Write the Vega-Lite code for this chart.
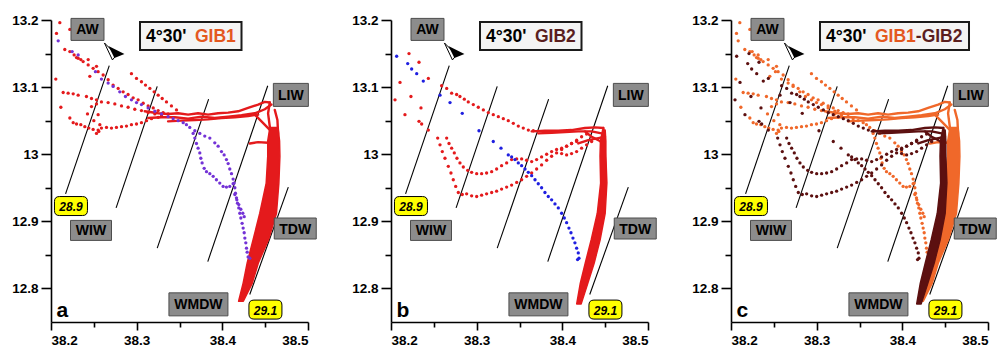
{
  "$schema": "https://vega.github.io/schema/vega-lite/v6.json",
  "padding": {"left": 11, "top": 13, "right": 2, "bottom": 2},
  "bounds": "flush",
  "spacing": 83,
  "config": {
    "view": {"stroke": null},
    "font": "Liberation Sans",
    "axis": {
      "domainColor": "black", "domainWidth": 1.6, "tickColor": "black", "tickWidth": 1.6,
      "labelColor": "black", "labelFont": "Liberation Sans", "labelFontSize": 13.5,
      "labelFontWeight": "bold", "grid": false, "labelPadding": 3, "labelOverlap": false, "title": null
    }
  },
  "datasets": {
    "notes": [
      {"key": "title", "S": 38.3039, "T": 13.1762},
      {"key": "arrow", "S": 38.2729, "T": 13.1494},
      {"key": "letter", "S": 38.2064, "T": 12.758}
    ],
    "iso": [
      {"S": 38.217, "T": 12.941, "S2": 38.268, "T2": 13.132},
      {"S": 38.276, "T": 12.920, "S2": 38.324, "T2": 13.101},
      {"S": 38.324, "T": 12.860, "S2": 38.384, "T2": 13.082},
      {"S": 38.383, "T": 12.840, "S2": 38.453, "T2": 13.102},
      {"S": 38.432, "T": 12.791, "S2": 38.477, "T2": 12.951}
    ],
    "lab": [
      {"name": "AW", "S": 38.2426, "T": 13.186},
      {"name": "LIW", "S": 38.4800, "T": 13.0884},
      {"name": "WIW", "S": 38.2467, "T": 12.8865},
      {"name": "TDW", "S": 38.4851, "T": 12.8893},
      {"name": "WMDW", "S": 38.3721, "T": 12.7763}
    ],
    "sig": [
      {"name": "28.9", "S": 38.2233, "T": 12.9228},
      {"name": "29.1", "S": 38.4503, "T": 12.7685}
    ],
    "g1": [
      {"S":38.2103,"T":13.196},{"S":38.2064,"T":13.180},{"S":38.2220,"T":13.186},{"S":38.2298,"T":13.144},
      {"S":38.2348,"T":13.141},{"S":38.2434,"T":13.141},{"S":38.2531,"T":13.131},{"S":38.2453,"T":13.116},
      {"S":38.2161,"T":13.156},{"S":38.2220,"T":13.153},{"S":38.2270,"T":13.148},{"S":38.2317,"T":13.143},
      {"S":38.2375,"T":13.138},{"S":38.2434,"T":13.133},{"S":38.2492,"T":13.128},{"S":38.2550,"T":13.123},
      {"S":38.2609,"T":13.118},{"S":38.2667,"T":13.111},{"S":38.2725,"T":13.103},{"S":38.2784,"T":13.098},
      {"S":38.2842,"T":13.093},{"S":38.2900,"T":13.089},{"S":38.2959,"T":13.084},{"S":38.3017,"T":13.081},
      {"S":38.3076,"T":13.076},{"S":38.3134,"T":13.072},{"S":38.3193,"T":13.069},{"S":38.3251,"T":13.065},
      {"S":38.3309,"T":13.062},{"S":38.3367,"T":13.060},
      {"S":38.2939,"T":13.120},{"S":38.2998,"T":13.113},{"S":38.3056,"T":13.108},{"S":38.3103,"T":13.103},
      {"S":38.3154,"T":13.098},{"S":38.3204,"T":13.093},{"S":38.3251,"T":13.088},{"S":38.3298,"T":13.083},
      {"S":38.3348,"T":13.078},{"S":38.3406,"T":13.072},{"S":38.3465,"T":13.066},
      {"S":38.2056,"T":13.112},{"S":38.2142,"T":13.092},{"S":38.2200,"T":13.091},{"S":38.2259,"T":13.090},
      {"S":38.2317,"T":13.088},{"S":38.2414,"T":13.086},{"S":38.2473,"T":13.083},{"S":38.2531,"T":13.081},
      {"S":38.2589,"T":13.078},{"S":38.2667,"T":13.077},{"S":38.2745,"T":13.075},{"S":38.2823,"T":13.072},
      {"S":38.2900,"T":13.070},{"S":38.2978,"T":13.067},{"S":38.3056,"T":13.065},{"S":38.3134,"T":13.062},
      {"S":38.3212,"T":13.060},{"S":38.3290,"T":13.057},
      {"S":38.2220,"T":13.054},{"S":38.2259,"T":13.047},{"S":38.2298,"T":13.045},{"S":38.2348,"T":13.044},
      {"S":38.2395,"T":13.041},{"S":38.2441,"T":13.039},{"S":38.2492,"T":13.037},{"S":38.2550,"T":13.036},
      {"S":38.2589,"T":13.039},{"S":38.2648,"T":13.040},{"S":38.2706,"T":13.039},{"S":38.2764,"T":13.040},
      {"S":38.2823,"T":13.041},{"S":38.2881,"T":13.042},{"S":38.2939,"T":13.044},{"S":38.2998,"T":13.045},
      {"S":38.3056,"T":13.047},{"S":38.3115,"T":13.050},{"S":38.3173,"T":13.053},{"S":38.3251,"T":13.055},
      {"S":38.2115,"T":13.070},{"S":38.2473,"T":13.071},{"S":38.2531,"T":13.075},{"S":38.2426,"T":13.060},
      {"S":38.2550,"T":13.059},{"S":38.2558,"T":13.034},{"S":38.2531,"T":13.031},{"S":38.2570,"T":13.044},
      {"S":38.2500,"T":13.050}
    ],
    "g1t": [
      {"trk":"b1","S":38.3095,"T":13.064},{"trk":"b1","S":38.3251,"T":13.061},{"trk":"b1","S":38.3367,"T":13.060},
      {"trk":"b1","S":38.3484,"T":13.061},{"trk":"b1","S":38.3601,"T":13.059},{"trk":"b1","S":38.3717,"T":13.061},
      {"trk":"b1","S":38.3834,"T":13.059},{"trk":"b1","S":38.3951,"T":13.061},{"trk":"b1","S":38.4068,"T":13.062},
      {"trk":"b1","S":38.4185,"T":13.064},{"trk":"b1","S":38.4301,"T":13.069},{"trk":"b1","S":38.4418,"T":13.074},
      {"trk":"b1","S":38.4496,"T":13.078},{"trk":"b1","S":38.4554,"T":13.077},
      {"trk":"b2","S":38.3134,"T":13.054},{"trk":"b2","S":38.3290,"T":13.055},{"trk":"b2","S":38.3445,"T":13.055},
      {"trk":"b2","S":38.3601,"T":13.053},{"trk":"b2","S":38.3756,"T":13.056},{"trk":"b2","S":38.3912,"T":13.054},
      {"trk":"b2","S":38.4068,"T":13.056},{"trk":"b2","S":38.4224,"T":13.058},{"trk":"b2","S":38.4379,"T":13.061},
      {"trk":"b2","S":38.4496,"T":13.067},{"trk":"b2","S":38.4573,"T":13.074},
      {"trk":"b3","S":38.3367,"T":13.049},{"trk":"b3","S":38.3523,"T":13.050},{"trk":"b3","S":38.3679,"T":13.051},
      {"trk":"b3","S":38.3834,"T":13.052},{"trk":"b3","S":38.3990,"T":13.054},{"trk":"b3","S":38.4146,"T":13.055},
      {"trk":"b3","S":38.4301,"T":13.057},{"trk":"b3","S":38.4418,"T":13.059},
      {"trk":"v1","S":38.4554,"T":13.077},{"trk":"v1","S":38.4534,"T":13.061},{"trk":"v1","S":38.4554,"T":13.041},
      {"trk":"v1","S":38.4573,"T":13.021},{"trk":"v1","S":38.4581,"T":12.997},
      {"trk":"v2","S":38.4612,"T":13.066},{"trk":"v2","S":38.4643,"T":13.051},{"trk":"v2","S":38.4651,"T":13.031},
      {"trk":"v2","S":38.4636,"T":13.012},{"trk":"v2","S":38.4651,"T":12.997},
      {"trk":"h4","S":38.4321,"T":13.016},{"trk":"h4","S":38.4418,"T":13.018},{"trk":"h4","S":38.4534,"T":13.017},
      {"trk":"h4","S":38.4651,"T":13.018},
      {"trk":"d1","S":38.4379,"T":13.059},{"trk":"d1","S":38.4457,"T":13.049},{"trk":"d1","S":38.4534,"T":13.039},
      {"trk":"d1","S":38.4593,"T":13.031}
    ],
    "g1k": [
      {"T":13.040,"S":38.4555,"S2":38.4650},
      {"T":13.020,"S":38.4530,"S2":38.4668},{"T":12.997,"S":38.4530,"S2":38.4672},
      {"T":12.957,"S":38.4512,"S2":38.4660},{"T":12.912,"S":38.4437,"S2":38.4632},
      {"T":12.873,"S":38.4360,"S2":38.4540},{"T":12.838,"S":38.4290,"S2":38.4420},
      {"T":12.808,"S":38.4243,"S2":38.4350},{"T":12.781,"S":38.4190,"S2":38.4245}
    ],
    "g1p": [
      {"S":38.2084,"T":13.169},{"S":38.2247,"T":13.153},{"S":38.2317,"T":13.148},{"S":38.2519,"T":13.123},
      {"S":38.2589,"T":13.112},{"S":38.2667,"T":13.106},{"S":38.2725,"T":13.101},{"S":38.2803,"T":13.093},
      {"S":38.2869,"T":13.086},{"S":38.2939,"T":13.081},{"S":38.2998,"T":13.077},{"S":38.3056,"T":13.074},
      {"S":38.3134,"T":13.069},{"S":38.3212,"T":13.064},{"S":38.3290,"T":13.060},{"S":38.3367,"T":13.056},
      {"S":38.3426,"T":13.053},{"S":38.3484,"T":13.050},{"S":38.3543,"T":13.047},{"S":38.3581,"T":13.044},
      {"S":38.3620,"T":13.040},
      {"S":38.3679,"T":13.035},{"S":38.3737,"T":13.031},{"S":38.3795,"T":13.027},{"S":38.3854,"T":13.024},
      {"S":38.3912,"T":13.017},{"S":38.3951,"T":13.012},{"S":38.3990,"T":13.004},{"S":38.4021,"T":12.999},
      {"S":38.4048,"T":12.992},{"S":38.4068,"T":12.986},{"S":38.4087,"T":12.978},{"S":38.4107,"T":12.971},
      {"S":38.4126,"T":12.963},{"S":38.4138,"T":12.957},
      {"S":38.3659,"T":13.031},{"S":38.3679,"T":13.024},{"S":38.3698,"T":13.016},{"S":38.3717,"T":13.009},
      {"S":38.3737,"T":13.002},{"S":38.3749,"T":12.994},{"S":38.3764,"T":12.987},{"S":38.3788,"T":12.979},
      {"S":38.3815,"T":12.974},{"S":38.3854,"T":12.971},{"S":38.3893,"T":12.967},{"S":38.3931,"T":12.962},
      {"S":38.3970,"T":12.957},{"S":38.4009,"T":12.952},{"S":38.4048,"T":12.951},{"S":38.4087,"T":12.952},
      {"S":38.4126,"T":12.956},
      {"S":38.4146,"T":12.950},{"S":38.4153,"T":12.942},{"S":38.4165,"T":12.935},{"S":38.4177,"T":12.927},
      {"S":38.4192,"T":12.920},{"S":38.4204,"T":12.912},{"S":38.4216,"T":12.905},{"S":38.4231,"T":12.897},
      {"S":38.4243,"T":12.890},{"S":38.4255,"T":12.883},{"S":38.4263,"T":12.875},{"S":38.4274,"T":12.868},
      {"S":38.4282,"T":12.860},{"S":38.4290,"T":12.854},{"S":38.4301,"T":12.847},{"S":38.4321,"T":12.845},
      {"S":38.4146,"T":12.940},{"S":38.4169,"T":12.932},{"S":38.4192,"T":12.925},{"S":38.4216,"T":12.918},
      {"S":38.4239,"T":12.912},{"S":38.4255,"T":12.907}
    ],
    "g2": [
      {"S":38.2210,"T":13.150},{"S":38.2327,"T":13.137},{"S":38.2436,"T":13.113},{"S":38.2591,"T":13.102},
      {"S":38.2650,"T":13.098},{"S":38.2708,"T":13.091},
      {"S":38.2047,"T":13.081},{"S":38.2105,"T":13.107},{"S":38.2163,"T":13.059},{"S":38.2233,"T":13.086},
      {"S":38.2327,"T":13.049},{"S":38.2350,"T":13.069},{"S":38.2436,"T":13.036},{"S":38.2358,"T":13.045},
      {"S":38.2766,"T":13.089},{"S":38.2805,"T":13.086},{"S":38.2856,"T":13.082},{"S":38.2902,"T":13.078},
      {"S":38.2961,"T":13.074},{"S":38.3019,"T":13.070},{"S":38.3078,"T":13.066},{"S":38.3136,"T":13.062},
      {"S":38.3194,"T":13.059},{"S":38.3253,"T":13.056},{"S":38.3311,"T":13.053},{"S":38.3369,"T":13.050},
      {"S":38.3428,"T":13.046},{"S":38.3486,"T":13.042},{"S":38.3544,"T":13.039},{"S":38.3603,"T":13.036},
      {"S":38.3661,"T":13.035},
      {"S":38.2545,"T":13.024},{"S":38.2572,"T":13.014},{"S":38.2599,"T":13.004},{"S":38.2630,"T":12.994},
      {"S":38.2669,"T":12.982},{"S":38.2700,"T":12.972},{"S":38.2727,"T":12.962},{"S":38.2755,"T":12.952},
      {"S":38.2786,"T":12.943},{"S":38.2832,"T":12.940},{"S":38.2883,"T":12.941},{"S":38.2941,"T":12.938},
      {"S":38.3000,"T":12.937},{"S":38.3058,"T":12.939},{"S":38.3116,"T":12.941},{"S":38.3175,"T":12.943},
      {"S":38.3233,"T":12.945},{"S":38.3291,"T":12.948},{"S":38.3350,"T":12.951},{"S":38.3408,"T":12.954},
      {"S":38.3467,"T":12.958},{"S":38.3525,"T":12.962},{"S":38.3583,"T":12.967},{"S":38.3642,"T":12.972},
      {"S":38.3700,"T":12.978},{"S":38.3758,"T":12.984},{"S":38.3817,"T":12.991},{"S":38.3875,"T":12.997},
      {"S":38.3933,"T":13.002},{"S":38.3992,"T":13.007},{"S":38.4050,"T":13.012},{"S":38.4108,"T":13.016},
      {"S":38.4167,"T":13.021},{"S":38.4225,"T":13.026},{"S":38.4283,"T":13.030},
      {"S":38.2650,"T":13.024},{"S":38.2677,"T":13.016},{"S":38.2708,"T":13.009},{"S":38.2739,"T":13.002},
      {"S":38.2770,"T":12.994},{"S":38.2805,"T":12.987},{"S":38.2844,"T":12.981},{"S":38.2895,"T":12.976},
      {"S":38.2941,"T":12.973},{"S":38.3000,"T":12.971},{"S":38.3058,"T":12.971},{"S":38.3116,"T":12.972},
      {"S":38.3175,"T":12.974},{"S":38.3233,"T":12.978},{"S":38.3291,"T":12.983},{"S":38.3350,"T":12.987},
      {"S":38.3408,"T":12.992},{"S":38.3467,"T":12.993},{"S":38.3525,"T":12.993},{"S":38.3583,"T":12.991},
      {"S":38.3642,"T":12.989},{"S":38.3700,"T":12.992},{"S":38.3758,"T":12.996},{"S":38.3817,"T":13.000},
      {"S":38.3875,"T":13.004},{"S":38.3933,"T":13.007},{"S":38.3992,"T":13.009},{"S":38.4050,"T":13.012},
      {"S":38.4108,"T":13.016},{"S":38.4167,"T":13.019},
      {"S":38.3992,"T":13.001},{"S":38.4050,"T":12.999},{"S":38.4108,"T":13.001},{"S":38.4167,"T":13.004},
      {"S":38.4225,"T":13.009},{"S":38.4283,"T":13.014},{"S":38.4342,"T":13.019}
    ],
    "g2t": [
      {"trk":"b1","S":38.3642,"T":13.034},{"trk":"b1","S":38.3797,"T":13.035},{"trk":"b1","S":38.3953,"T":13.035},
      {"trk":"b1","S":38.4108,"T":13.036},{"trk":"b1","S":38.4264,"T":13.039},{"trk":"b1","S":38.4381,"T":13.040},
      {"trk":"b1","S":38.4478,"T":13.039},
      {"trk":"b2","S":38.3719,"T":13.031},{"trk":"b2","S":38.3875,"T":13.032},{"trk":"b2","S":38.4031,"T":13.033},
      {"trk":"b2","S":38.4186,"T":13.034},{"trk":"b2","S":38.4342,"T":13.034},{"trk":"b2","S":38.4458,"T":13.031},
      {"trk":"l1","S":38.4264,"T":13.034},{"trk":"l1","S":38.4342,"T":13.026},{"trk":"l1","S":38.4420,"T":13.021},
      {"trk":"l1","S":38.4478,"T":13.016},
      {"trk":"l2","S":38.4186,"T":13.016},{"trk":"l2","S":38.4303,"T":13.021},{"trk":"l2","S":38.4420,"T":13.024},
      {"trk":"l2","S":38.4498,"T":13.026},
      {"trk":"v1","S":38.4478,"T":13.039},{"trk":"v1","S":38.4490,"T":13.021},{"trk":"v1","S":38.4498,"T":12.997},
      {"trk":"v1","S":38.4505,"T":12.970}
    ],
    "g2k": [
      {"T":13.036,"S":38.4470,"S2":38.4500},
      {"T":13.020,"S":38.4445,"S2":38.4508},{"T":12.997,"S":38.4440,"S2":38.4508},
      {"T":12.957,"S":38.4447,"S2":38.4520},{"T":12.912,"S":38.4408,"S2":38.4500},
      {"T":12.873,"S":38.4338,"S2":38.4442},{"T":12.838,"S":38.4268,"S2":38.4372},
      {"T":12.808,"S":38.4210,"S2":38.4298},{"T":12.777,"S":38.4168,"S2":38.4220}
    ],
    "g2p": [
      {"S":38.2066,"T":13.146},{"S":38.2195,"T":13.135},{"S":38.2241,"T":13.127},{"S":38.2300,"T":13.120},
      {"S":38.2377,"T":13.109},{"S":38.2572,"T":13.088},{"S":38.2689,"T":13.077},{"S":38.2832,"T":13.061},
      {"S":38.3027,"T":13.035},{"S":38.3194,"T":13.019},{"S":38.3284,"T":13.009},{"S":38.3369,"T":12.999},
      {"S":38.3408,"T":12.996},{"S":38.3447,"T":12.992},{"S":38.3486,"T":12.987},{"S":38.3525,"T":12.983},
      {"S":38.3564,"T":12.978},{"S":38.3603,"T":12.973},{"S":38.3642,"T":12.968},{"S":38.3681,"T":12.962},
      {"S":38.3719,"T":12.956},{"S":38.3758,"T":12.950},{"S":38.3797,"T":12.943},{"S":38.3836,"T":12.937},
      {"S":38.3875,"T":12.932},{"S":38.3914,"T":12.926},{"S":38.3953,"T":12.920},{"S":38.3992,"T":12.912},
      {"S":38.4023,"T":12.905},{"S":38.4050,"T":12.898},{"S":38.4077,"T":12.890},{"S":38.4101,"T":12.883},
      {"S":38.4124,"T":12.875},{"S":38.4147,"T":12.868},{"S":38.4167,"T":12.860},{"S":38.4186,"T":12.853},
      {"S":38.4194,"T":12.845},{"S":38.4178,"T":12.843}
    ]
  },
  "hconcat": [
    {
      "width": 257, "height": 302,
      "encoding": {
        "x": {"field": "S", "type": "quantitative", "scale": {"domain": [38.2, 38.5], "nice": false, "zero": false},
              "axis": {"values": [38.2, 38.25, 38.3, 38.35, 38.4, 38.45, 38.5],
                       "labelExpr": "abs(datum.value*10 - round(datum.value*10)) < 0.001 ? format(datum.value, '~g') : ''",
                       "tickSize": {"condition": {"test": "abs(datum.value*10 - round(datum.value*10)) < 0.001", "value": 8}, "value": 5}}},
        "y": {"field": "T", "type": "quantitative", "scale": {"domain": [12.75, 13.2], "nice": false, "zero": false},
              "axis": {"values": [12.8, 12.85, 12.9, 12.95, 13, 13.05, 13.1, 13.15, 13.2],
                       "labelExpr": "abs(datum.value*10 - round(datum.value*10)) < 0.001 ? format(datum.value, '~g') : ''",
                       "tickSize": {"condition": {"test": "abs(datum.value*10 - round(datum.value*10)) < 0.001", "value": 10}, "value": 6}}}
      },
      "layer": [
        {"data": {"name": "iso"}, "mark": {"type": "rule", "color": "black", "strokeWidth": 1.1}, "encoding": {"x2": {"field": "S2"}, "y2": {"field": "T2"}}},
        {"data": {"name": "g1t"}, "mark": {"type": "line", "color": "#e41a1c", "strokeWidth": 2.4, "strokeCap": "round", "strokeJoin": "round"}, "encoding": {"detail": {"field": "trk"}, "order": {"value": null}}},
        {"data": {"name": "g1k"}, "mark": {"type": "area", "orient": "horizontal", "color": "#e41a1c", "stroke": "#e41a1c", "strokeWidth": 1.5, "strokeJoin": "round", "opacity": 1}, "encoding": {"x2": {"field": "S2"}}},
        {"data": {"name": "g1"}, "mark": {"type": "point", "filled": true, "size": 11, "color": "#e41a1c", "opacity": 1, "strokeWidth": 0}},
        {"data": {"name": "g1p"}, "mark": {"type": "point", "filled": true, "size": 11, "color": "#7332d6", "opacity": 1, "strokeWidth": 0}},
        {"data": {"name": "lab"}, "mark": {"type": "point", "size": 4, "filled": true, "color": "#8c8c8c", "stroke": "#4d4d4d", "strokeWidth": 1, "opacity": 1},
         "encoding": {"shape": {"field": "name", "type": "nominal", "legend": null, "scale": {"domain": ["AW", "LIW", "WIW", "TDW", "WMDW"], "range": ["M-16.5,-11H16.5V11H-16.5Z", "M-17.5,-11.5H17.5V11.5H-17.5Z", "M-20.5,-10H20.5V10H-20.5Z", "M-21,-10.5H21V10.5H-21Z", "M-29.5,-11.5H29.5V11.5H-29.5Z"]}}}},
        {"data": {"name": "lab"}, "mark": {"type": "text", "fontSize": 14, "fontWeight": "bold", "color": "black", "baseline": "middle", "dy": 1}, "encoding": {"text": {"field": "name"}}},
        {"data": {"name": "sig"}, "mark": {"type": "point", "shape": "M-11.5,-9.5H11.5Q16.5,-9.5 16.5,-4.5V4.5Q16.5,9.5 11.5,9.5H-11.5Q-16.5,9.5 -16.5,4.5V-4.5Q-16.5,-9.5 -11.5,-9.5Z", "size": 4, "filled": true, "color": "#ffff00", "stroke": "black", "strokeWidth": 1, "opacity": 1}},
        {"data": {"name": "sig"}, "mark": {"type": "text", "fontSize": 12, "fontWeight": "bold", "fontStyle": "italic", "color": "black", "baseline": "middle", "dy": 1}, "encoding": {"text": {"field": "name"}}},
        {"data": {"name": "notes"}, "transform": [{"filter": "datum.key == 'title'"}], "mark": {"type": "point", "shape": "M0,-14H101.5V14H0Z", "size": 4, "filled": true, "color": "#f4f4f4", "stroke": "#1a1a1a", "strokeWidth": 2, "opacity": 1}},
        {"data": {"name": "notes"}, "transform": [{"filter": "datum.key == 'title'"}], "mark": {"type": "text", "text": "4°30'", "align": "left", "baseline": "middle", "dx": 6, "dy": 1, "fontSize": 17.5, "fontWeight": "bold", "color": "black"}},
        {"data": {"name": "notes"}, "transform": [{"filter": "datum.key == 'title'"}], "mark": {"type": "text", "text": "GIB1", "align": "left", "baseline": "middle", "dx": 55, "dy": 1, "fontSize": 17.5, "fontWeight": "bold", "color": "#e4571f"}},
        {"data": {"name": "notes"}, "transform": [{"filter": "datum.key == 'arrow'"}], "mark": {"type": "point", "shape": "M-9,-11L-1,6L3,1Z", "size": 4, "filled": true, "color": "white", "stroke": "black", "strokeWidth": 1, "opacity": 1}},
        {"data": {"name": "notes"}, "transform": [{"filter": "datum.key == 'arrow'"}], "mark": {"type": "point", "shape": "M-5,-8L11,0L1,4Z", "size": 4, "filled": true, "color": "black", "opacity": 1}},
        {"data": {"name": "notes"}, "transform": [{"filter": "datum.key == 'letter'"}], "mark": {"type": "text", "text": "a", "align": "left", "baseline": "alphabetic", "fontSize": 21, "fontWeight": "bold", "color": "black"}}
      ]
    },
    {
      "width": 257, "height": 302,
      "encoding": {
        "x": {"field": "S", "type": "quantitative", "scale": {"domain": [38.2, 38.5], "nice": false, "zero": false},
              "axis": {"values": [38.2, 38.25, 38.3, 38.35, 38.4, 38.45, 38.5],
                       "labelExpr": "abs(datum.value*10 - round(datum.value*10)) < 0.001 ? format(datum.value, '~g') : ''",
                       "tickSize": {"condition": {"test": "abs(datum.value*10 - round(datum.value*10)) < 0.001", "value": 8}, "value": 5}}},
        "y": {"field": "T", "type": "quantitative", "scale": {"domain": [12.75, 13.2], "nice": false, "zero": false},
              "axis": {"values": [12.8, 12.85, 12.9, 12.95, 13, 13.05, 13.1, 13.15, 13.2],
                       "labelExpr": "abs(datum.value*10 - round(datum.value*10)) < 0.001 ? format(datum.value, '~g') : ''",
                       "tickSize": {"condition": {"test": "abs(datum.value*10 - round(datum.value*10)) < 0.001", "value": 10}, "value": 6}}}
      },
      "layer": [
        {"data": {"name": "iso"}, "mark": {"type": "rule", "color": "black", "strokeWidth": 1.1}, "encoding": {"x2": {"field": "S2"}, "y2": {"field": "T2"}}},
        {"data": {"name": "g2t"}, "mark": {"type": "line", "color": "#e41a1c", "strokeWidth": 2.4, "strokeCap": "round", "strokeJoin": "round"}, "encoding": {"detail": {"field": "trk"}, "order": {"value": null}}},
        {"data": {"name": "g2k"}, "mark": {"type": "area", "orient": "horizontal", "color": "#e41a1c", "stroke": "#e41a1c", "strokeWidth": 1.5, "strokeJoin": "round", "opacity": 1}, "encoding": {"x2": {"field": "S2"}}},
        {"data": {"name": "g2"}, "mark": {"type": "point", "filled": true, "size": 11, "color": "#e41a1c", "opacity": 1, "strokeWidth": 0}},
        {"data": {"name": "g2p"}, "mark": {"type": "point", "filled": true, "size": 11, "color": "#1f1fe0", "opacity": 1, "strokeWidth": 0}},
        {"data": {"name": "lab"}, "mark": {"type": "point", "size": 4, "filled": true, "color": "#8c8c8c", "stroke": "#4d4d4d", "strokeWidth": 1, "opacity": 1},
         "encoding": {"shape": {"field": "name", "type": "nominal", "legend": null, "scale": {"domain": ["AW", "LIW", "WIW", "TDW", "WMDW"], "range": ["M-16.5,-11H16.5V11H-16.5Z", "M-17.5,-11.5H17.5V11.5H-17.5Z", "M-20.5,-10H20.5V10H-20.5Z", "M-21,-10.5H21V10.5H-21Z", "M-29.5,-11.5H29.5V11.5H-29.5Z"]}}}},
        {"data": {"name": "lab"}, "mark": {"type": "text", "fontSize": 14, "fontWeight": "bold", "color": "black", "baseline": "middle", "dy": 1}, "encoding": {"text": {"field": "name"}}},
        {"data": {"name": "sig"}, "mark": {"type": "point", "shape": "M-11.5,-9.5H11.5Q16.5,-9.5 16.5,-4.5V4.5Q16.5,9.5 11.5,9.5H-11.5Q-16.5,9.5 -16.5,4.5V-4.5Q-16.5,-9.5 -11.5,-9.5Z", "size": 4, "filled": true, "color": "#ffff00", "stroke": "black", "strokeWidth": 1, "opacity": 1}},
        {"data": {"name": "sig"}, "mark": {"type": "text", "fontSize": 12, "fontWeight": "bold", "fontStyle": "italic", "color": "black", "baseline": "middle", "dy": 1}, "encoding": {"text": {"field": "name"}}},
        {"data": {"name": "notes"}, "transform": [{"filter": "datum.key == 'title'"}], "mark": {"type": "point", "shape": "M0,-14H101.5V14H0Z", "size": 4, "filled": true, "color": "#f4f4f4", "stroke": "#1a1a1a", "strokeWidth": 2, "opacity": 1}},
        {"data": {"name": "notes"}, "transform": [{"filter": "datum.key == 'title'"}], "mark": {"type": "text", "text": "4°30'", "align": "left", "baseline": "middle", "dx": 6, "dy": 1, "fontSize": 17.5, "fontWeight": "bold", "color": "black"}},
        {"data": {"name": "notes"}, "transform": [{"filter": "datum.key == 'title'"}], "mark": {"type": "text", "text": "GIB2", "align": "left", "baseline": "middle", "dx": 55, "dy": 1, "fontSize": 17.5, "fontWeight": "bold", "color": "#5a1e1e"}},
        {"data": {"name": "notes"}, "transform": [{"filter": "datum.key == 'arrow'"}], "mark": {"type": "point", "shape": "M-9,-11L-1,6L3,1Z", "size": 4, "filled": true, "color": "white", "stroke": "black", "strokeWidth": 1, "opacity": 1}},
        {"data": {"name": "notes"}, "transform": [{"filter": "datum.key == 'arrow'"}], "mark": {"type": "point", "shape": "M-5,-8L11,0L1,4Z", "size": 4, "filled": true, "color": "black", "opacity": 1}},
        {"data": {"name": "notes"}, "transform": [{"filter": "datum.key == 'letter'"}], "mark": {"type": "text", "text": "b", "align": "left", "baseline": "alphabetic", "fontSize": 21, "fontWeight": "bold", "color": "black"}}
      ]
    },
    {
      "width": 257, "height": 302,
      "encoding": {
        "x": {"field": "S", "type": "quantitative", "scale": {"domain": [38.2, 38.5], "nice": false, "zero": false},
              "axis": {"values": [38.2, 38.25, 38.3, 38.35, 38.4, 38.45, 38.5],
                       "labelExpr": "abs(datum.value*10 - round(datum.value*10)) < 0.001 ? format(datum.value, '~g') : ''",
                       "tickSize": {"condition": {"test": "abs(datum.value*10 - round(datum.value*10)) < 0.001", "value": 8}, "value": 5}}},
        "y": {"field": "T", "type": "quantitative", "scale": {"domain": [12.75, 13.2], "nice": false, "zero": false},
              "axis": {"values": [12.8, 12.85, 12.9, 12.95, 13, 13.05, 13.1, 13.15, 13.2],
                       "labelExpr": "abs(datum.value*10 - round(datum.value*10)) < 0.001 ? format(datum.value, '~g') : ''",
                       "tickSize": {"condition": {"test": "abs(datum.value*10 - round(datum.value*10)) < 0.001", "value": 10}, "value": 6}}}
      },
      "layer": [
        {"data": {"name": "iso"}, "mark": {"type": "rule", "color": "black", "strokeWidth": 1.1}, "encoding": {"x2": {"field": "S2"}, "y2": {"field": "T2"}}},
        {"data": {"name": "g1t"}, "mark": {"type": "line", "color": "#f0682a", "strokeWidth": 2.4, "strokeCap": "round", "strokeJoin": "round"}, "encoding": {"detail": {"field": "trk"}, "order": {"value": null}}},
        {"data": {"name": "g1k"}, "mark": {"type": "area", "orient": "horizontal", "color": "#f0682a", "stroke": "#f0682a", "strokeWidth": 1.5, "strokeJoin": "round", "opacity": 1}, "encoding": {"x2": {"field": "S2"}}},
        {"data": {"name": "g1"}, "mark": {"type": "point", "filled": true, "size": 11, "color": "#f0682a", "opacity": 1, "strokeWidth": 0}},
        {"data": {"name": "g1p"}, "mark": {"type": "point", "filled": true, "size": 11, "color": "#f0682a", "opacity": 1, "strokeWidth": 0}},
        {"data": {"name": "g2t"}, "mark": {"type": "line", "color": "#5c1010", "strokeWidth": 2.4, "strokeCap": "round", "strokeJoin": "round"}, "encoding": {"detail": {"field": "trk"}, "order": {"value": null}}},
        {"data": {"name": "g2k"}, "mark": {"type": "area", "orient": "horizontal", "color": "#5c1010", "stroke": "#5c1010", "strokeWidth": 1.5, "strokeJoin": "round", "opacity": 1}, "encoding": {"x2": {"field": "S2"}}},
        {"data": {"name": "g2"}, "mark": {"type": "point", "filled": true, "size": 11, "color": "#5c1010", "opacity": 1, "strokeWidth": 0}},
        {"data": {"name": "g2p"}, "mark": {"type": "point", "filled": true, "size": 11, "color": "#5c1010", "opacity": 1, "strokeWidth": 0}},
        {"data": {"name": "lab"}, "mark": {"type": "point", "size": 4, "filled": true, "color": "#8c8c8c", "stroke": "#4d4d4d", "strokeWidth": 1, "opacity": 1},
         "encoding": {"shape": {"field": "name", "type": "nominal", "legend": null, "scale": {"domain": ["AW", "LIW", "WIW", "TDW", "WMDW"], "range": ["M-16.5,-11H16.5V11H-16.5Z", "M-17.5,-11.5H17.5V11.5H-17.5Z", "M-20.5,-10H20.5V10H-20.5Z", "M-21,-10.5H21V10.5H-21Z", "M-29.5,-11.5H29.5V11.5H-29.5Z"]}}}},
        {"data": {"name": "lab"}, "mark": {"type": "text", "fontSize": 14, "fontWeight": "bold", "color": "black", "baseline": "middle", "dy": 1}, "encoding": {"text": {"field": "name"}}},
        {"data": {"name": "sig"}, "mark": {"type": "point", "shape": "M-11.5,-9.5H11.5Q16.5,-9.5 16.5,-4.5V4.5Q16.5,9.5 11.5,9.5H-11.5Q-16.5,9.5 -16.5,4.5V-4.5Q-16.5,-9.5 -11.5,-9.5Z", "size": 4, "filled": true, "color": "#ffff00", "stroke": "black", "strokeWidth": 1, "opacity": 1}},
        {"data": {"name": "sig"}, "mark": {"type": "text", "fontSize": 12, "fontWeight": "bold", "fontStyle": "italic", "color": "black", "baseline": "middle", "dy": 1}, "encoding": {"text": {"field": "name"}}},
        {"data": {"name": "notes"}, "transform": [{"filter": "datum.key == 'title'"}], "mark": {"type": "point", "shape": "M0,-14H149V14H0Z", "size": 4, "filled": true, "color": "#f4f4f4", "stroke": "#1a1a1a", "strokeWidth": 2, "opacity": 1}},
        {"data": {"name": "notes"}, "transform": [{"filter": "datum.key == 'title'"}], "mark": {"type": "text", "text": "4°30'", "align": "left", "baseline": "middle", "dx": 6, "dy": 1, "fontSize": 17.5, "fontWeight": "bold", "color": "black"}},
        {"data": {"name": "notes"}, "transform": [{"filter": "datum.key == 'title'"}], "mark": {"type": "text", "text": "GIB1", "align": "left", "baseline": "middle", "dx": 55, "dy": 1, "fontSize": 17.5, "fontWeight": "bold", "color": "#e4571f"}},
        {"data": {"name": "notes"}, "transform": [{"filter": "datum.key == 'title'"}], "mark": {"type": "text", "text": "-GIB2", "align": "left", "baseline": "middle", "dx": 95.8, "dy": 1, "fontSize": 17.5, "fontWeight": "bold", "color": "#5a1e1e"}},
        {"data": {"name": "notes"}, "transform": [{"filter": "datum.key == 'arrow'"}], "mark": {"type": "point", "shape": "M-9,-11L-1,6L3,1Z", "size": 4, "filled": true, "color": "white", "stroke": "black", "strokeWidth": 1, "opacity": 1}},
        {"data": {"name": "notes"}, "transform": [{"filter": "datum.key == 'arrow'"}], "mark": {"type": "point", "shape": "M-5,-8L11,0L1,4Z", "size": 4, "filled": true, "color": "black", "opacity": 1}},
        {"data": {"name": "notes"}, "transform": [{"filter": "datum.key == 'letter'"}], "mark": {"type": "text", "text": "c", "align": "left", "baseline": "alphabetic", "fontSize": 21, "fontWeight": "bold", "color": "black"}}
      ]
    }
  ]
}
